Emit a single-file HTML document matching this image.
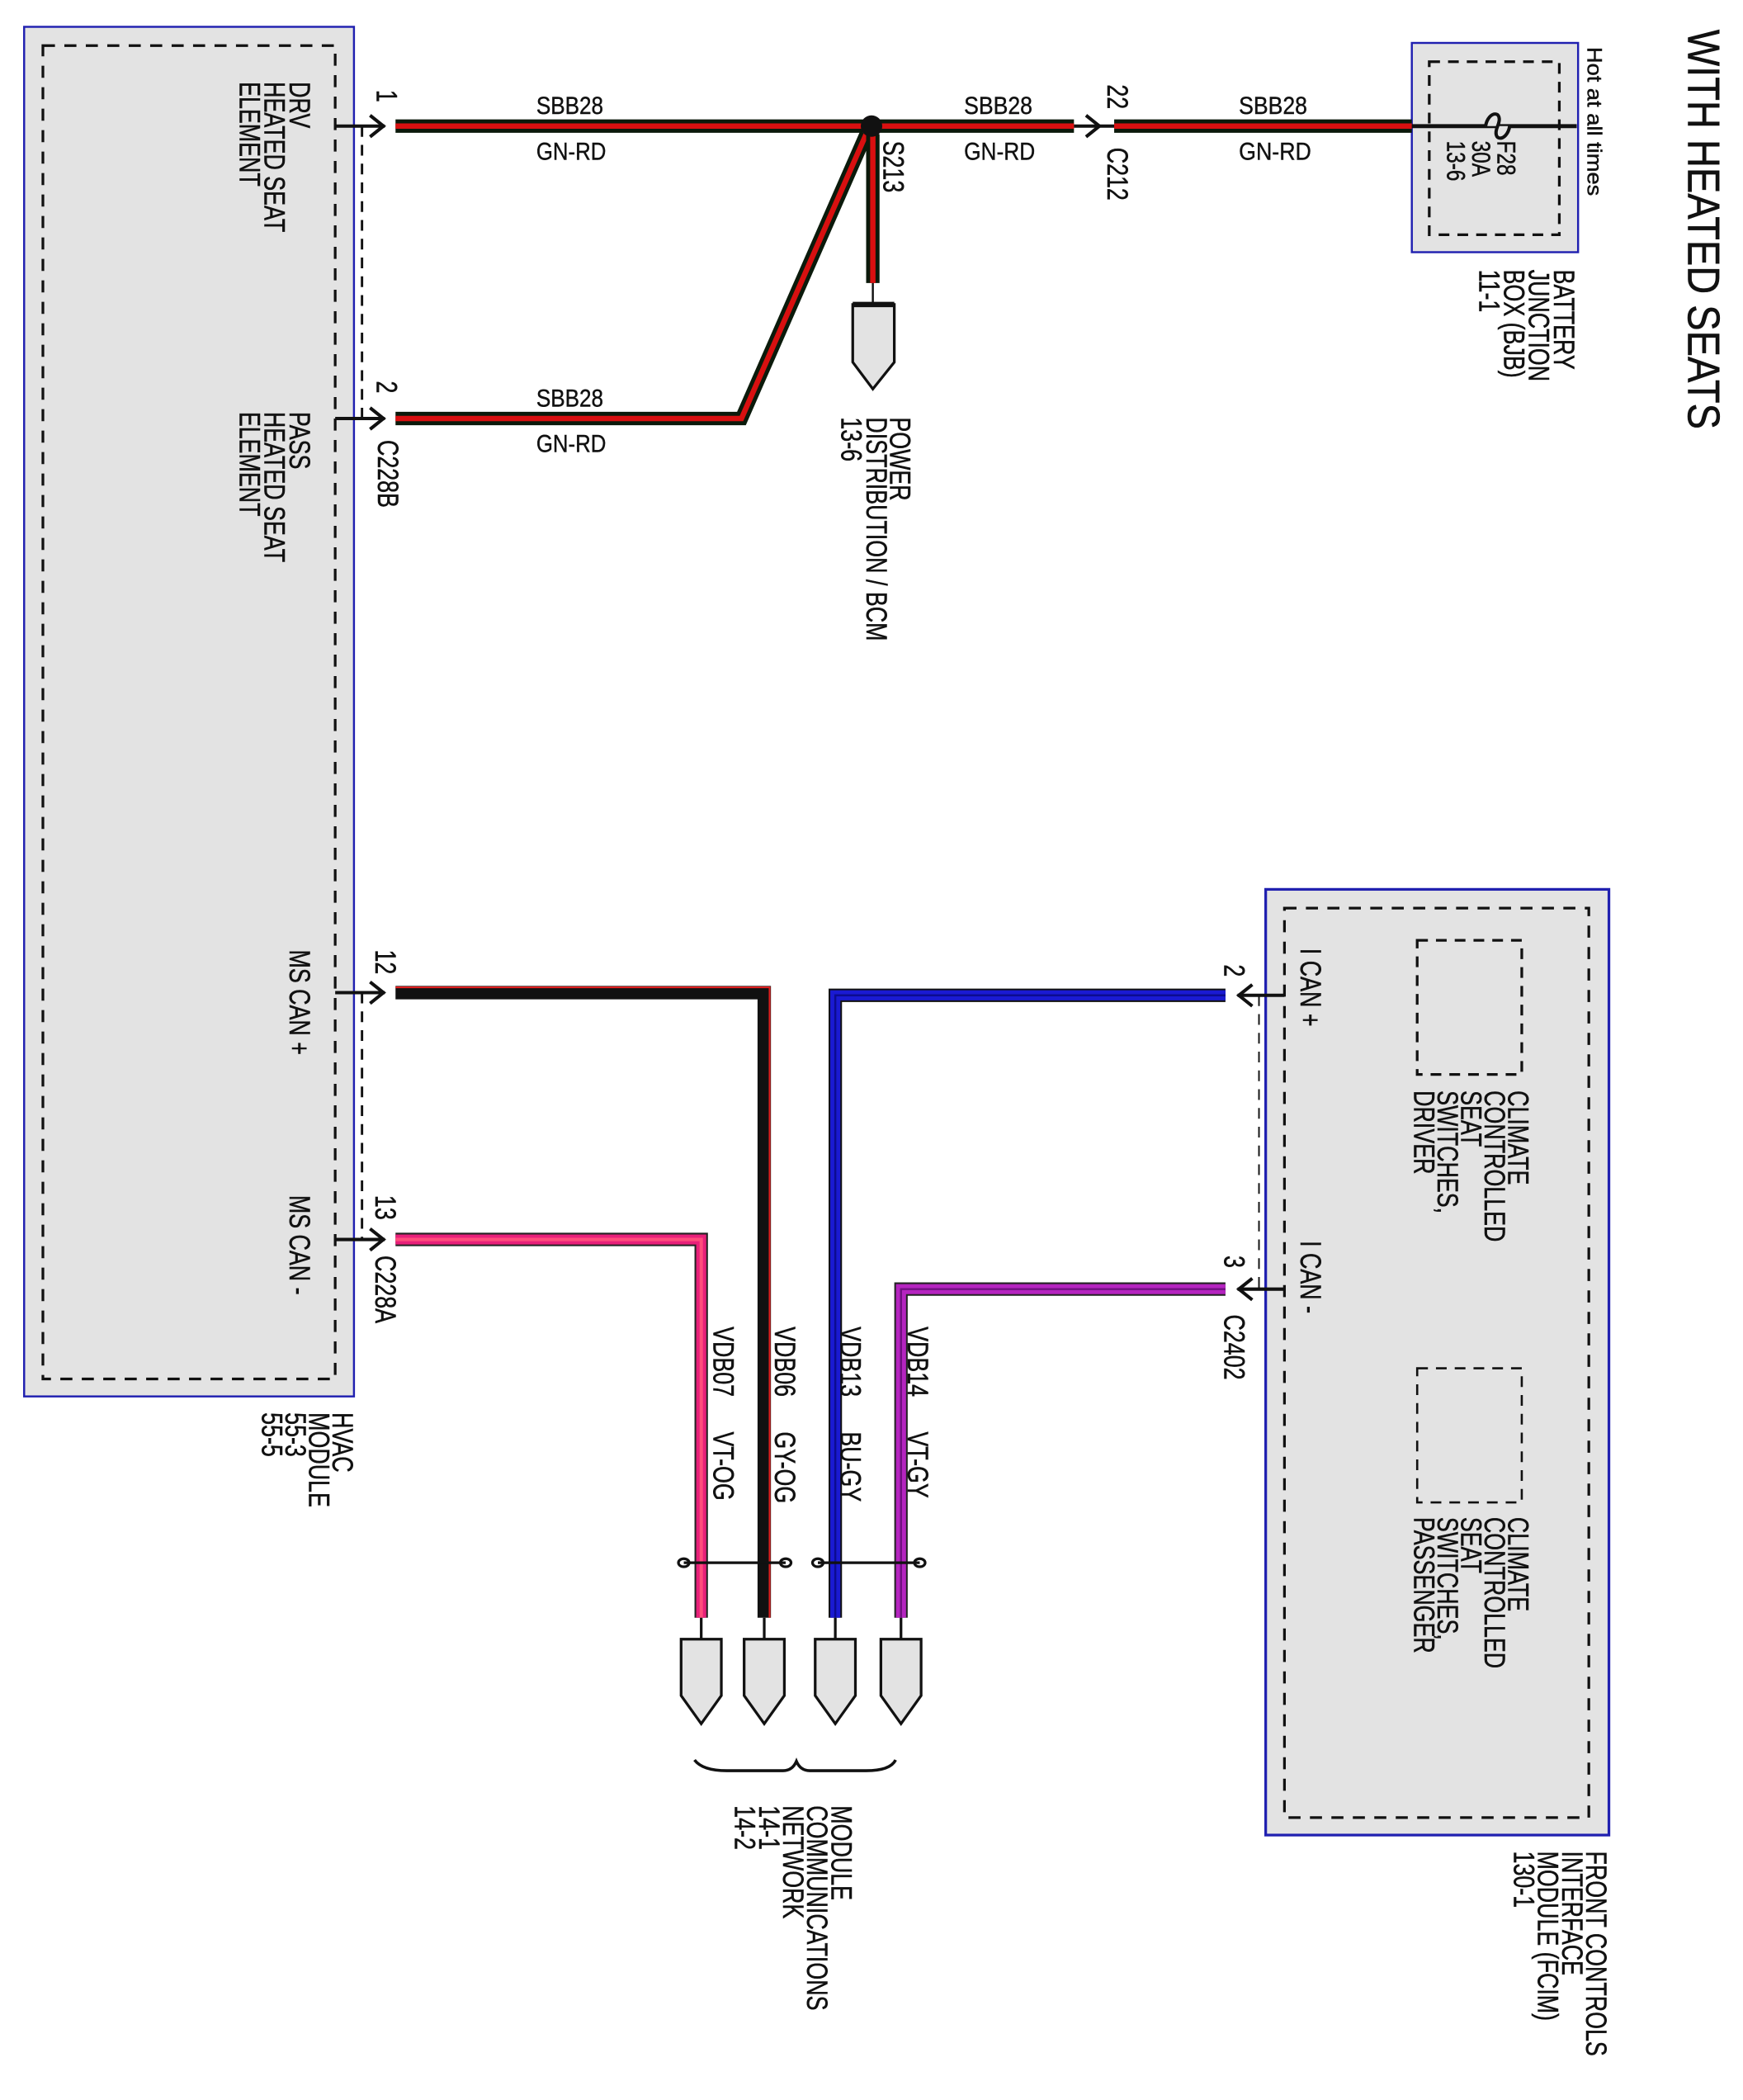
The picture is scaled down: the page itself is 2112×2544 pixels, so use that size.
<!DOCTYPE html>
<html><head><meta charset="utf-8"><style>
html,body{margin:0;padding:0;background:#fff;}
svg{display:block;}
text{font-family:"Liberation Sans",Arial,sans-serif;fill:#111;stroke:#111;stroke-width:0.25;}
</style></head><body>
<svg width="2112" height="2544" viewBox="0 0 1300 1565.5" preserveAspectRatio="none" xmlns="http://www.w3.org/2000/svg">
<rect width="1300" height="1566" fill="#fff"/>

<rect x="18" y="20" width="246" height="1021" fill="#e3e3e3" stroke="#2020b0" stroke-width="1.5"/>
<rect x="32" y="34" width="218" height="994" fill="none" stroke="#111" stroke-width="2" stroke-dasharray="9,7"/>

<rect x="1053" y="32" width="124" height="156" fill="#e3e3e3" stroke="#2020b0" stroke-width="1.5"/>
<rect x="1066" y="46" width="97" height="129" fill="none" stroke="#111" stroke-width="2" stroke-dasharray="8,6"/>

<rect x="944" y="663" width="256" height="705" fill="#e3e3e3" stroke="#2020b0" stroke-width="2"/>
<rect x="958" y="677" width="227" height="678" fill="none" stroke="#111" stroke-width="2" stroke-dasharray="9,7"/>
<rect x="1057" y="701" width="78" height="100" fill="none" stroke="#111" stroke-width="2" stroke-dasharray="8,6"/>
<rect x="1057" y="1020" width="78" height="100" fill="none" stroke="#111" stroke-width="1.6" stroke-dasharray="8,6"/>

<line x1="270" y1="94" x2="270" y2="314" stroke="#111" stroke-width="1.8" stroke-dasharray="8,6"/>
<line x1="270" y1="740" x2="270" y2="924" stroke="#111" stroke-width="1.8" stroke-dasharray="8,6"/>
<line x1="939" y1="742" x2="939" y2="961" stroke="#111" stroke-width="1.2" stroke-dasharray="8,6"/>

<g stroke="#111" stroke-width="2.5" fill="none">
<line x1="250" y1="94" x2="287" y2="94"/><polyline points="276,86 286,94 276,102"/>
<line x1="250" y1="312" x2="287" y2="312"/><polyline points="276,304 286,312 276,320"/>
<line x1="250" y1="740" x2="287" y2="740"/><polyline points="276,732 286,740 276,748"/>
<line x1="250" y1="924" x2="287" y2="924"/><polyline points="276,916 286,924 276,932"/>
<line x1="801" y1="94" x2="831" y2="94"/><polyline points="810,86 820,94 810,102"/>
<line x1="958" y1="742" x2="923" y2="742"/><polyline points="934,734 924,742 934,750"/>
<line x1="958" y1="961" x2="923" y2="961"/><polyline points="934,953 924,961 934,969"/>
</g>

<g fill="none" stroke-linejoin="miter">
<polyline points="295,94 645,94" stroke="#0b1a0b" stroke-width="10"/>
<polyline points="295,94 645,94" stroke="#d81010" stroke-width="4"/>
<polyline points="656,94 801,94" stroke="#0b1a0b" stroke-width="10"/>
<polyline points="656,94 801,94" stroke="#d81010" stroke-width="4"/>
<polyline points="831,94 1053,94" stroke="#0b1a0b" stroke-width="10"/>
<polyline points="831,94 1053,94" stroke="#d81010" stroke-width="4"/>
<polyline points="295,312 553,312 646,100" stroke="#0b1a0b" stroke-width="10"/>
<polyline points="295,312 553,312 646,100" stroke="#d81010" stroke-width="4"/>
<polyline points="651,100 651,211" stroke="#0b1a0b" stroke-width="10"/>
<polyline points="651,100 651,211" stroke="#d81010" stroke-width="4"/>
</g>
<line x1="1053" y1="94" x2="1176" y2="94" stroke="#111" stroke-width="3"/>
<path d="M1108,94 C1110,82 1122,82 1117,94 C1112,106 1124,106 1126,94" fill="#e3e3e3" stroke="#111" stroke-width="2.5"/>
<ellipse cx="650" cy="94" rx="8" ry="8" fill="#111"/>
<line x1="651" y1="211" x2="651" y2="227" stroke="#111" stroke-width="1.5"/>
<path d="M636,227 L667,227 L667,270 L651,290 L636,270 Z" fill="#e3e3e3" stroke="#111" stroke-width="2"/>
<line x1="636" y1="227" x2="667" y2="227" stroke="#111" stroke-width="4"/>

<g fill="none">
<polyline points="295,740 570,740 570,1206" stroke="#111" stroke-width="10"/>
<polyline points="295,736 574,736 574,1206" stroke="#e02020" stroke-width="1.3"/>
<polyline points="295,924 523,924 523,1206" stroke="#222" stroke-width="10"/>
<polyline points="295,924 523,924 523,1206" stroke="#e8207a" stroke-width="7.5"/>
<polyline points="295,924 523,924 523,1206" stroke="#ff4c7c" stroke-width="2.5"/>
<polyline points="914,742 623,742 623,1206" stroke="#111" stroke-width="10"/>
<polyline points="914,742 623,742 623,1206" stroke="#1a1ad2" stroke-width="7.5"/>
<polyline points="914,742 623,742 623,1206" stroke="#0c0c90" stroke-width="1.5"/>
<polyline points="914,961 672,961 672,1206" stroke="#222" stroke-width="10"/>
<polyline points="914,961 672,961 672,1206" stroke="#b524c0" stroke-width="7.5"/>
<polyline points="914,961 672,961 672,1206" stroke="#701080" stroke-width="1.5"/>
</g>

<g stroke="#111" stroke-width="2" fill="none">
<line x1="510" y1="1165" x2="586" y2="1165"/>
<ellipse cx="510" cy="1165" rx="4" ry="3"/><ellipse cx="586" cy="1165" rx="4" ry="3"/>
<line x1="610" y1="1165" x2="686" y2="1165"/>
<ellipse cx="610" cy="1165" rx="4" ry="3"/><ellipse cx="686" cy="1165" rx="4" ry="3"/>
</g>

<g stroke="#111" stroke-width="2" fill="#e3e3e3">
<line x1="523" y1="1206" x2="523" y2="1222"/>
<line x1="570" y1="1206" x2="570" y2="1222"/>
<line x1="623" y1="1206" x2="623" y2="1222"/>
<line x1="672" y1="1206" x2="672" y2="1222"/>
<path d="M508,1222 L538,1222 L538,1264 L523,1285 L508,1264 Z"/>
<path d="M555,1222 L585,1222 L585,1264 L570,1285 L555,1264 Z"/>
<path d="M608,1222 L638,1222 L638,1264 L623,1285 L608,1264 Z"/>
<path d="M657,1222 L687,1222 L687,1264 L672,1285 L657,1264 Z"/>
</g>
<path d="M518,1312 Q524,1320 542,1320 L584,1320 Q591,1320 594,1313 Q597,1320 604,1320 L646,1320 Q664,1320 668,1312" fill="none" stroke="#111" stroke-width="2.2"/>

<g font-size="18">
<text x="400" y="85" textLength="50" lengthAdjust="spacingAndGlyphs">SBB28</text>
<text x="400" y="119" textLength="52" lengthAdjust="spacingAndGlyphs">GN-RD</text>
<text x="400" y="303" textLength="50" lengthAdjust="spacingAndGlyphs">SBB28</text>
<text x="400" y="337" textLength="52" lengthAdjust="spacingAndGlyphs">GN-RD</text>
<text x="719" y="85" textLength="51" lengthAdjust="spacingAndGlyphs">SBB28</text>
<text x="719" y="119" textLength="53" lengthAdjust="spacingAndGlyphs">GN-RD</text>
<text x="924" y="85" textLength="51" lengthAdjust="spacingAndGlyphs">SBB28</text>
<text x="924" y="119" textLength="54" lengthAdjust="spacingAndGlyphs">GN-RD</text>
</g>

<g font-size="16.5">
<text transform="translate(1259,22) rotate(90) scale(1,1.3)" font-size="26" textLength="298" lengthAdjust="spacingAndGlyphs">WITH HEATED SEATS</text>
<text transform="translate(1184,35) rotate(90) scale(1,1.2)" font-size="13" textLength="111" lengthAdjust="spacingAndGlyphs">Hot at all times</text>
<text transform="translate(1117,105) rotate(90) scale(1,1.3)" font-size="15"><tspan x="0" y="0">F28</tspan><tspan x="0" y="14.5">30A</tspan><tspan x="0" y="29">13-6</tspan></text>
<text transform="translate(1159,201) rotate(90) scale(1,1.3)"><tspan x="0" y="0">BATTERY</tspan><tspan x="0" y="14.3">JUNCTION</tspan><tspan x="0" y="28.6">BOX (BJB)</tspan><tspan x="0" y="42.9">11-1</tspan></text>
<text transform="translate(216,61) rotate(90) scale(1,1.3)"><tspan x="0" y="0">DRV</tspan><tspan x="0" y="14.3">HEATED SEAT</tspan><tspan x="0" y="28.6">ELEMENT</tspan></text>
<text transform="translate(216,307) rotate(90) scale(1,1.3)"><tspan x="0" y="0">PASS</tspan><tspan x="0" y="14.3">HEATED SEAT</tspan><tspan x="0" y="28.6">ELEMENT</tspan></text>
<text transform="translate(248,1053) rotate(90) scale(1,1.3)"><tspan x="0" y="0">HVAC</tspan><tspan x="0" y="13.5">MODULE</tspan><tspan x="0" y="27">55-3</tspan><tspan x="0" y="40.5">55-5</tspan></text>
<text transform="translate(216,708) rotate(90) scale(1,1.3)">MS CAN +</text>
<text transform="translate(216,891) rotate(90) scale(1,1.3)">MS CAN -</text>
<text transform="translate(281,67) rotate(90) scale(1,1.3)">1</text>
<text transform="translate(281,284) rotate(90) scale(1,1.3)">2</text>
<text transform="translate(282,328) rotate(90) scale(1,1.3)">C228B</text>
<text transform="translate(280,708) rotate(90) scale(1,1.3)">12</text>
<text transform="translate(280,891) rotate(90) scale(1,1.3)">13</text>
<text transform="translate(280,936) rotate(90) scale(1,1.3)">C228A</text>
<text transform="translate(659,105) rotate(90) scale(1,1.3)">S213</text>
<text transform="translate(826,63) rotate(90) scale(1,1.3)">22</text>
<text transform="translate(826,110) rotate(90) scale(1,1.3)">C212</text>
<text transform="translate(664,311) rotate(90) scale(1,1.3)"><tspan x="0" y="0">POWER</tspan><tspan x="0" y="13.5">DISTRIBUTION / BCM</tspan><tspan x="0" y="28">13-6</tspan></text>
<text transform="translate(532,989) rotate(90) scale(1,1.3)">VDB07<tspan dx="26">VT-OG</tspan></text>
<text transform="translate(578,989) rotate(90) scale(1,1.3)">VDB06<tspan dx="26">GY-OG</tspan></text>
<text transform="translate(627,989) rotate(90) scale(1,1.3)">VDB13<tspan dx="26">BU-GY</tspan></text>
<text transform="translate(677,989) rotate(90) scale(1,1.3)">VDB14<tspan dx="26">VT-GY</tspan></text>
<text transform="translate(620,1346) rotate(90) scale(1,1.3)"><tspan x="0" y="0">MODULE</tspan><tspan x="0" y="13.8">COMMUNICATIONS</tspan><tspan x="0" y="27.6">NETWORK</tspan><tspan x="0" y="41.4">14-1</tspan><tspan x="0" y="55.2">14-2</tspan></text>
<text transform="translate(913,719) rotate(90) scale(1,1.3)">2</text>
<text transform="translate(913,936) rotate(90) scale(1,1.3)">3</text>
<text transform="translate(913,980) rotate(90) scale(1,1.3)">C2402</text>
<text transform="translate(970,707) rotate(90) scale(1,1.3)">I CAN +</text>
<text transform="translate(970,925) rotate(90) scale(1,1.3)">I CAN -</text>
<text transform="translate(1125,813) rotate(90) scale(1,1.3)"><tspan x="0" y="0">CLIMATE</tspan><tspan x="0" y="13.5">CONTROLLED</tspan><tspan x="0" y="27">SEAT</tspan><tspan x="0" y="40.5">SWITCHES,</tspan><tspan x="0" y="54">DRIVER</tspan></text>
<text transform="translate(1125,1131) rotate(90) scale(1,1.3)"><tspan x="0" y="0">CLIMATE</tspan><tspan x="0" y="13.5">CONTROLLED</tspan><tspan x="0" y="27">SEAT</tspan><tspan x="0" y="40.5">SWITCHES,</tspan><tspan x="0" y="54">PASSENGER</tspan></text>
<text transform="translate(1183,1380) rotate(90) scale(1,1.3)"><tspan x="0" y="0">FRONT CONTROLS</tspan><tspan x="0" y="13.8">INTERFACE</tspan><tspan x="0" y="27.6">MODULE (FCIM)</tspan><tspan x="0" y="41.4">130-1</tspan></text>
</g>
</svg>
</body></html>
